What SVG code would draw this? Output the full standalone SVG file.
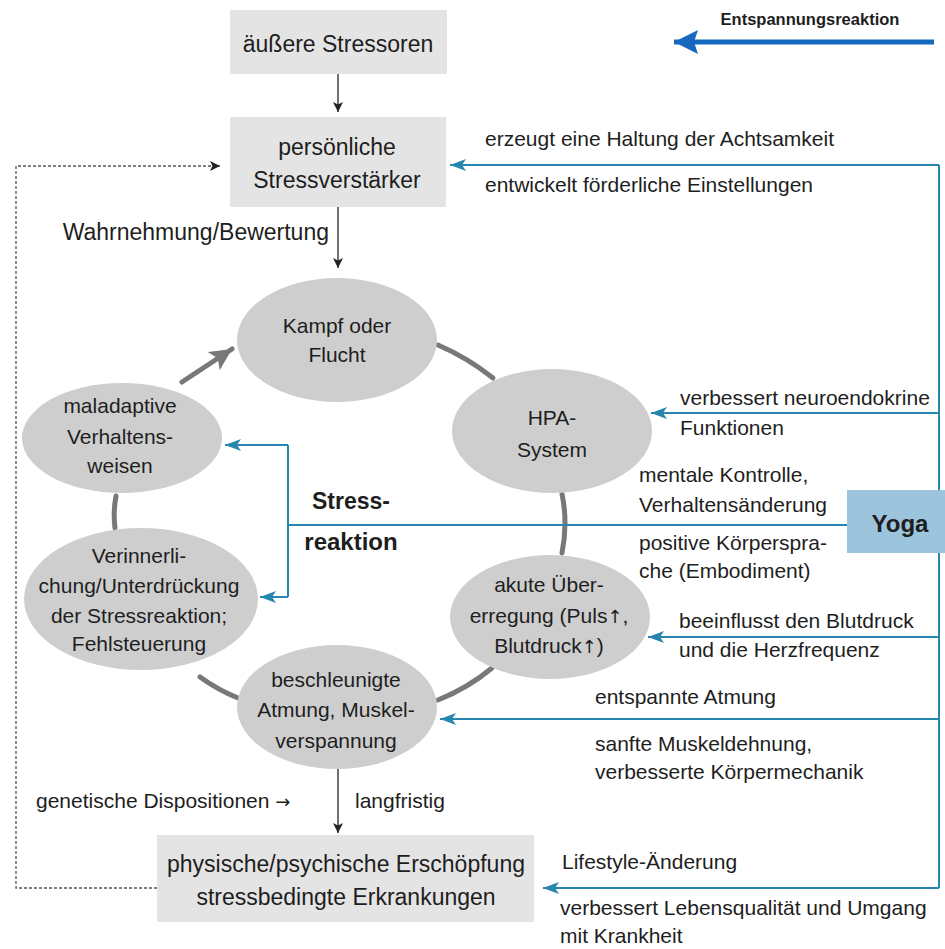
<svg xmlns="http://www.w3.org/2000/svg" width="945" height="949" viewBox="0 0 945 949">
<style>
text{font-family:"Liberation Sans",Arial,sans-serif;fill:#1e1e1e;}
.t{font-size:21px;}
.b{font-size:23px;}
.c{text-anchor:middle;}
.bold{font-weight:bold;}
.ar{font-family:"DejaVu Sans",sans-serif;font-size:18px;}
.box{fill:#e4e4e4;}
.ell{fill:#cecece;}
.blk{stroke:#222;stroke-width:1.3;fill:none;}
.blue{stroke:#2786ad;stroke-width:2;fill:none;}
.ring{stroke:#787878;stroke-width:5;fill:none;stroke-linecap:round;}
.dash{stroke:#555;stroke-width:1.3;fill:none;stroke-dasharray:3,2;}
</style>
<defs>
<marker id="ab" markerUnits="userSpaceOnUse" markerWidth="12" markerHeight="12" refX="10" refY="5" orient="auto">
<path d="M0,0 L10,5 L0,10 L2.5,5 z" fill="#222"/>
</marker>
<marker id="au" markerUnits="userSpaceOnUse" markerWidth="18" markerHeight="14" refX="16" refY="6" orient="auto">
<path d="M0,0 L16,6 L0,12 L4,6 z" fill="#2786ad"/>
</marker>
<marker id="ag" markerUnits="userSpaceOnUse" markerWidth="26" markerHeight="24" refX="22" refY="11" orient="auto">
<path d="M0,0 L22,11 L0,22 L5,11 z" fill="#787878"/>
</marker>
<marker id="al" markerUnits="userSpaceOnUse" markerWidth="30" markerHeight="30" refX="24" refY="13" orient="auto">
<path d="M0,1 L24,13 L0,25 L4,13 z" fill="#1668be"/>
</marker>
</defs>

<g id="legend">
<text x="810" y="25" class="c bold" style="font-size:16.5px">Entspannungsreaktion</text>
<line x1="934" y1="42" x2="674" y2="42" stroke="#1668be" stroke-width="5" marker-end="url(#al)"/>
</g>

<g id="connectors">
<path class="blk" d="M338,74 L338,112" marker-end="url(#ab)"/>
<path class="blk" d="M338,207 L338,268" marker-end="url(#ab)"/>
<path class="blk" d="M338,769 L338,833" marker-end="url(#ab)"/>
<path class="dash" d="M157,888 L16,888 L16,166 L220,166" marker-end="url(#ab)"/>
<path class="ring" d="M438,345 Q468,358 493,378"/>
<path class="ring" d="M562,494 Q568,523 562,553"/>
<path class="ring" d="M492,668 Q468,688 438,700"/>
<path class="ring" d="M238,698 Q218,690 200,677"/>
<path class="ring" d="M115,528 Q113,512 116,496"/>
<path class="ring" d="M182,382 L232,349" marker-end="url(#ag)"/>
<path class="blue" d="M939,165 L939,888"/>
<path class="blue" d="M939,165 L450,165" marker-end="url(#au)"/>
<path class="blue" d="M939,413 L651,413" marker-end="url(#au)"/>
<path class="blue" d="M939,637 L648,637" marker-end="url(#au)"/>
<path class="blue" d="M939,719 L440,719" marker-end="url(#au)"/>
<path class="blue" d="M939,888 L543,888" marker-end="url(#au)"/>
<path class="blue" d="M847,525 L288,525"/>
<path class="blue" d="M288,445 L288,597"/>
<path class="blue" d="M288,445 L225,445" marker-end="url(#au)"/>
<path class="blue" d="M288,597 L260,597" marker-end="url(#au)"/>
</g>

<g id="aeussere-stressoren">
<rect class="box" x="230" y="10" width="217" height="64"/>
<text x="338" y="52" class="b c">äußere Stressoren</text>
</g>

<g id="stressverstaerker">
<rect class="box" x="230" y="117" width="216" height="90"/>
<text x="337" y="155" class="b c">persönliche</text>
<text x="337" y="188" class="b c">Stressverstärker</text>
</g>

<g id="wahrnehmung">
<text x="329" y="240" class="b" text-anchor="end">Wahrnehmung/Bewertung</text>
</g>

<g id="kampf">
<ellipse class="ell" cx="337" cy="340" rx="100" ry="62"/>
<text x="337" y="333" class="t c">Kampf oder</text>
<text x="337" y="362" class="t c">Flucht</text>
</g>

<g id="hpa">
<ellipse class="ell" cx="552" cy="431" rx="100" ry="62"/>
<text x="552" y="425" class="t c">HPA-</text>
<text x="552" y="457" class="t c">System</text>
</g>

<g id="akut">
<ellipse class="ell" cx="550" cy="617" rx="100" ry="62"/>
<text x="549" y="592" class="t c">akute Über-</text>
<text x="549" y="623" class="t c">erregung (Puls<tspan class="ar">↑</tspan>,</text>
<text x="549" y="653" class="t c">Blutdruck<tspan class="ar">↑</tspan>)</text>
</g>

<g id="atmung">
<ellipse class="ell" cx="337" cy="707" rx="100" ry="62"/>
<text x="336" y="687" class="t c">beschleunigte</text>
<text x="336" y="717" class="t c">Atmung, Muskel-</text>
<text x="336" y="748" class="t c">verspannung</text>
</g>

<g id="verinnerlichung">
<ellipse class="ell" cx="141" cy="599" rx="117" ry="71"/>
<text x="139" y="563" class="t c">Verinnerli-</text>
<text x="139" y="593" class="t c">chung/Unterdrückung</text>
<text x="139" y="623" class="t c">der Stressreaktion;</text>
<text x="139" y="651" class="t c">Fehlsteuerung</text>
</g>

<g id="maladaptiv">
<ellipse class="ell" cx="122" cy="438" rx="100" ry="55"/>
<text x="120" y="413" class="t c">maladaptive</text>
<text x="120" y="444" class="t c">Verhaltens-</text>
<text x="120" y="473" class="t c">weisen</text>
</g>

<g id="stressreaktion">
<text x="351" y="509" class="c bold" style="font-size:23px">Stress-</text>
<text x="351" y="550" class="c bold" style="font-size:24px">reaktion</text>
</g>

<g id="yoga">
<rect x="847" y="490" width="98" height="63" fill="#9cc4dc"/>
<text x="900" y="532" class="c bold" style="font-size:24px">Yoga</text>
</g>

<g id="erschoepfung">
<rect class="box" x="157" y="835" width="377" height="87"/>
<text x="346" y="872" class="b c">physische/psychische Erschöpfung</text>
<text x="346" y="905" class="b c">stressbedingte Erkrankungen</text>
</g>

<g id="labels">
<text x="485" y="146" class="t">erzeugt eine Haltung der Achtsamkeit</text>
<text x="485" y="192" class="t">entwickelt förderliche Einstellungen</text>
<text x="680" y="405" class="t">verbessert neuroendokrine</text>
<text x="680" y="435" class="t">Funktionen</text>
<text x="639" y="482" class="t">mentale Kontrolle,</text>
<text x="639" y="512" class="t">Verhaltensänderung</text>
<text x="639" y="550" class="t">positive Körperspra-</text>
<text x="639" y="578" class="t">che (Embodiment)</text>
<text x="679" y="628" class="t">beeinflusst den Blutdruck</text>
<text x="679" y="657" class="t">und die Herzfrequenz</text>
<text x="595" y="704" class="t">entspannte Atmung</text>
<text x="595" y="751" class="t">sanfte Muskeldehnung,</text>
<text x="595" y="779" class="t">verbesserte Körpermechanik</text>
<text x="36" y="808" class="t">genetische Dispositionen <tspan class="ar">→</tspan></text>
<text x="355" y="808" class="t">langfristig</text>
<text x="562" y="869" class="t">Lifestyle-Änderung</text>
<text x="560" y="915" class="t">verbessert Lebensqualität und Umgang</text>
<text x="560" y="943" class="t">mit Krankheit</text>
</g>
</svg>
